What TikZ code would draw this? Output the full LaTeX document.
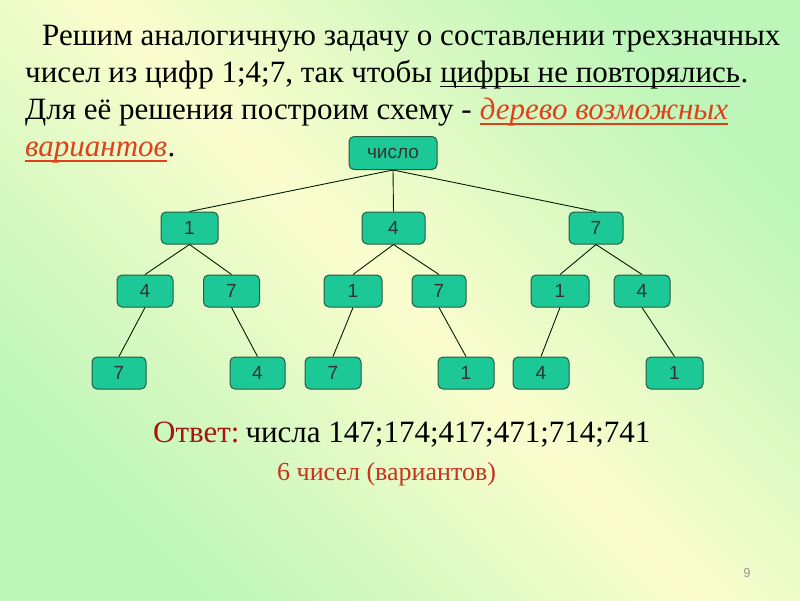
\documentclass[tikz,border=0pt]{standalone}
\usepackage{fontspec}
\setmainfont{Liberation Serif}
\newfontfamily\nodefont{Liberation Sans}
\definecolor{bggreen}{HTML}{BDF6B8}
\definecolor{bgyellow}{HTML}{FBFDCE}
\definecolor{boxfill}{HTML}{1CC896}
\definecolor{boxline}{HTML}{2B5A42}
\definecolor{redtxt}{HTML}{E0401C}
\definecolor{darkred}{HTML}{A8140E}
\definecolor{redsmall}{HTML}{C8321E}
\tikzset{
  tbox/.style={draw=boxline, line width=1pt, fill=boxfill, rounded corners=5pt,
    minimum height=32pt, minimum width=56pt, inner sep=0pt,
    font=\nodefont\fontsize{19}{19}\selectfont, text=black!80},
  edge/.style={draw=black!70!green!40!black, line width=0.9pt},
  line/.style={anchor=base west, inner sep=0pt, font=\fontsize{31}{31}\selectfont},
  redline/.style={draw=redtxt, line width=2.4pt},
  blackline/.style={draw=black, line width=1.7pt}
}
\begin{document}
\begin{tikzpicture}[x=1pt,y=-1pt]
\shade[top color=bggreen, bottom color=bggreen, middle color=bgyellow, shading angle=-45] (0,0) rectangle (800,600);
\useasboundingbox (0,0) rectangle (800,600);
% text
\node[line] (t1) at (42,45) {Решим аналогичную задачу о составлении трехзначных};
\node[line] (t2a) at (25,82) {чисел из цифр 1;4;7, так чтобы};
\node[line] (t2b) at ([xshift=7.8pt]t2a.base east) {цифры не повторялись};
\node[line] (t2c) at (t2b.base east) {.};
\draw[blackline] ([yshift=-4.5pt]t2b.base west) -- ([yshift=-4.5pt]t2b.base east);
\node[line] (t3a) at (25,119) {Для её решения построим схему -};
\node[line, text=redtxt, font=\fontsize{31}{31}\selectfont\itshape] (t3b) at ([xshift=7.8pt]t3a.base east) {дерево возможных};
\draw[redline] ([yshift=-5pt]t3b.base west) -- ([yshift=-5pt]t3b.base east);
\node[line, text=redtxt, font=\fontsize{31}{31}\selectfont\itshape] (t4a) at (25,156) {вариантов};
\node[line] (t4b) at (t4a.base east) {.};
\draw[redline] ([yshift=-5pt]t4a.base west) -- ([yshift=-5pt]t4a.base east);
% tree
\node[tbox, minimum width=88pt, minimum height=33pt] (r) at (393,153) {число};
\node[tbox, minimum width=57pt] (a1) at (189.5,228) {1};
\node[tbox, minimum width=63pt] (a4) at (393.5,228) {4};
\node[tbox, minimum width=54pt] (a7) at (596,228) {7};
\node[tbox] (b14) at (145,291) {4};
\node[tbox] (b17) at (231.5,291) {7};
\node[tbox, minimum width=58pt] (b41) at (353,291) {1};
\node[tbox, minimum width=54pt] (b47) at (439,291) {7};
\node[tbox, minimum width=58pt] (b71) at (560,291) {1};
\node[tbox] (b74) at (642,291) {4};
\node[tbox, minimum width=54pt] (c147) at (119,373) {7};
\node[tbox, minimum width=55pt] (c174) at (257.5,373) {4};
\node[tbox] (c417) at (333,373) {7};
\node[tbox] (c471) at (466,373) {1};
\node[tbox] (c714) at (541,373) {4};
\node[tbox, minimum width=57pt] (c741) at (674.5,373) {1};
\foreach \p/\c in {r/a1, r/a4, r/a7, a1/b14, a1/b17, a4/b41, a4/b47, a7/b71, a7/b74,
  b14/c147, b17/c174, b41/c417, b47/c471, b71/c714, b74/c741}
  \draw[edge] (\p.south) -- (\c.north);
% answer
\node[line] (ans) at (153,442) {\textcolor{darkred}{Ответ:}\hspace{6pt}числа 147;174;417;471;714;741};
\node[anchor=base west, inner sep=0pt, font=\fontsize{26}{26}\selectfont, text=redsmall] (cnt) at (277,480) {6 чисел (вариантов)};
\node[inner sep=0pt, font=\nodefont\fontsize{13}{13}\selectfont, text=black!40] (pg) at (747,573) {9};
\end{tikzpicture}
\end{document}
